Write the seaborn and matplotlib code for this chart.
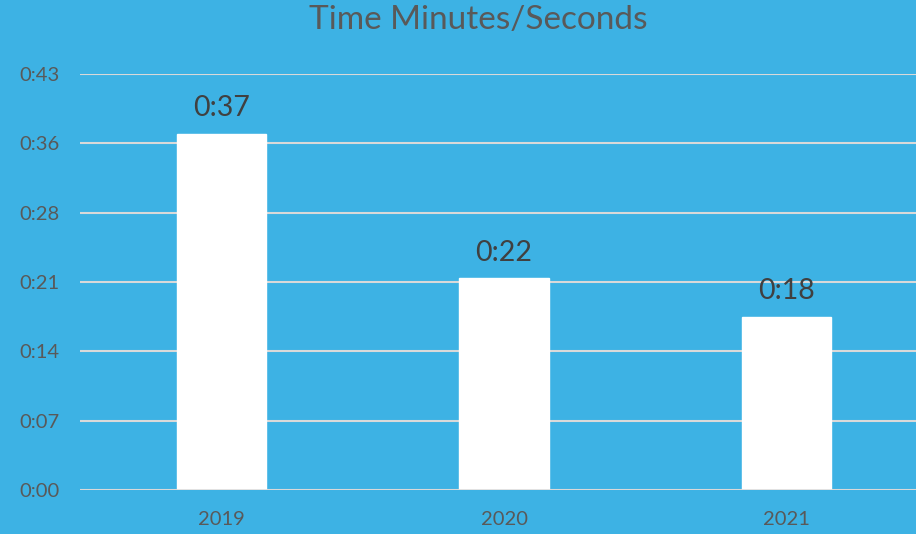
"""Bar chart of yearly times on an Excel-style blue background."""

import matplotlib

matplotlib.use("Agg")
import matplotlib.pyplot as plt
import pandas as pd
import seaborn as sns

years = ["2019", "2020", "2021"]
minutes = [37, 22, 18]
value_labels = ["0:37", "0:22", "0:18"]
tick_values = [0, 7.2, 14.4, 21.6, 28.8, 36.0, 43.2]
tick_labels = ["0:00", "0:07", "0:14", "0:21", "0:28", "0:36", "0:43"]

BG = "#3DB2E4"
GRID = "#D9D9D9"
TICK_COLOR = "#595959"
LABEL_COLOR = "#404040"


def main() -> None:
    sns.set_theme(style="white")
    plt.rcParams["font.family"] = ["Lato", "DejaVu Sans"]

    df = pd.DataFrame({"year": years, "minutes": minutes})

    fig = plt.figure(figsize=(9.16, 5.34), dpi=100)
    fig.patch.set_facecolor(BG)
    ax = fig.add_axes([80 / 916, 44 / 534, 848 / 916, 416 / 534])
    ax.set_facecolor(BG)

    sns.barplot(data=df, x="year", y="minutes", color="white", width=0.315,
                saturation=1, ax=ax, zorder=3)

    ax.set_xlim(-0.5, 2.5)
    ax.set_ylim(0, tick_values[-1])
    ax.set_yticks(tick_values)
    ax.set_yticklabels(tick_labels)
    ax.yaxis.grid(True, color=GRID, linewidth=1.5, zorder=0)
    ax.set_axisbelow(True)
    for spine in ax.spines.values():
        spine.set_visible(False)
    ax.axhline(0, color=GRID, linewidth=1.8, zorder=4)

    ax.tick_params(axis="y", length=0, pad=15, labelsize=14.5, labelcolor=TICK_COLOR)
    ax.tick_params(axis="x", length=0, pad=15, labelsize=14.5, labelcolor=TICK_COLOR)
    ax.set_xlabel("")
    ax.set_ylabel("")

    for i, (value, text) in enumerate(zip(minutes, value_labels)):
        ax.annotate(text, (i, value), xytext=(0, 9), textcoords="offset points",
                    ha="center", va="bottom", fontsize=20.5, color=LABEL_COLOR)

    fig.text(478 / 916, 1 - 20 / 534, "Time Minutes/Seconds", ha="center", va="center",
             fontsize=24, color=TICK_COLOR)

    fig.savefig("out.png", dpi=100, facecolor=BG)
    plt.close(fig)


if __name__ == "__main__":
    main()
